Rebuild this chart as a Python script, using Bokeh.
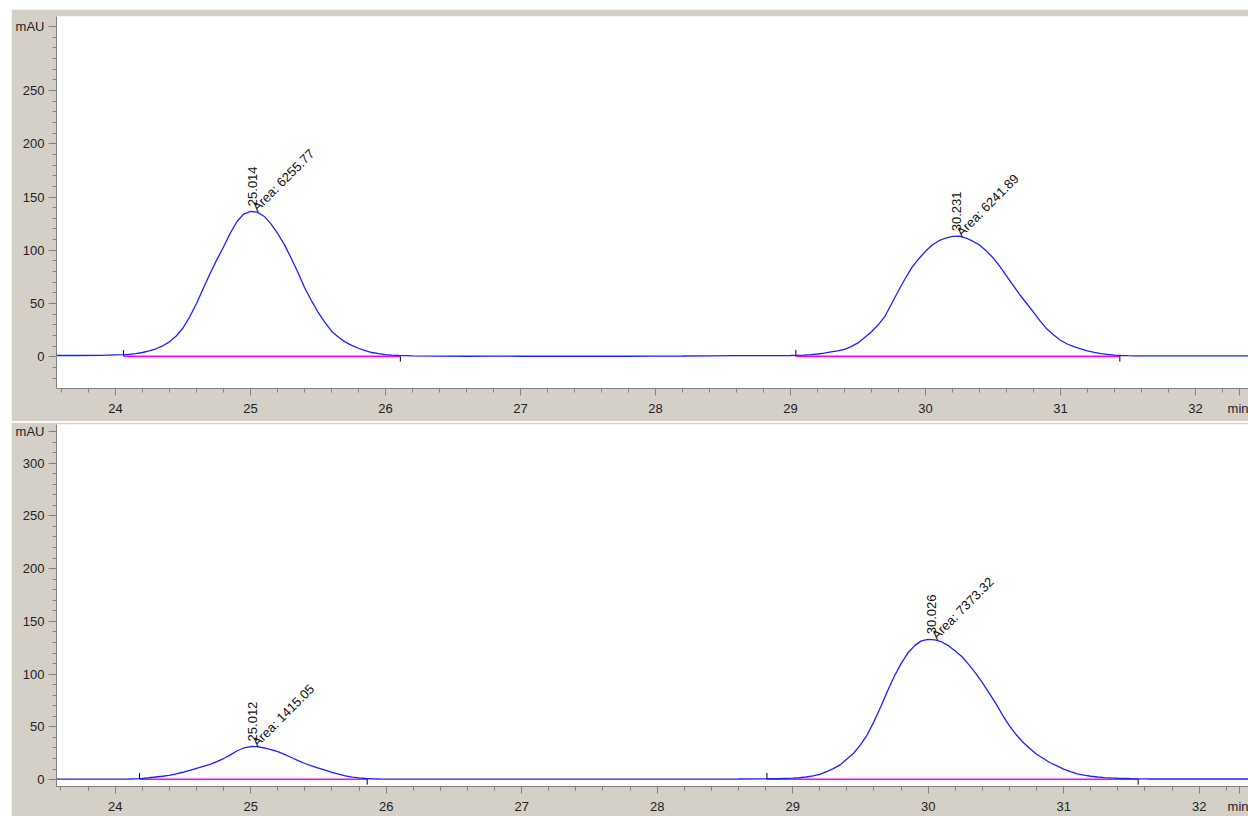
import math
from bokeh.plotting import figure
from bokeh.models import FixedTicker, AllLabels
from bokeh.layouts import column
from bokeh.embed import file_html
from bokeh.resources import INLINE
from bokeh.core.properties import value

# ---------------- data ----------------
PEAK_STEP = 0.05   # peaks are read every 0.05 min

# upper chromatogram
top_lead_t = [23.5, 23.7, 23.9]
top_lead_v = [1.2, 1.2, 1.3]
top_peak1_start = 24.0
top_peak1_v = [1.8, 2.0, 2.3, 3.0, 4.0, 5.5, 7.5, 10.3, 14, 19.5,
               27, 37.5, 50, 64, 78, 91, 103, 116, 127, 134,
               136.5, 135.8, 132, 125, 116, 105.5, 93, 79.5, 65, 53,
               42, 32.5, 24, 18.5, 14, 10.7, 8, 5.8, 4, 2.9,
               2.0, 1.5, 1.2, 1.0, 0.8]
top_mid_t = [26.4, 26.6, 26.8, 27.0, 27.2, 27.4, 27.6, 27.8, 28.0, 28.2, 28.4, 28.6, 28.8]
top_mid_v = [0.6, 0.5, 0.6, 0.5, 0.5, 0.5, 0.5, 0.5, 0.6, 0.7, 0.9, 1.0, 1.1]
top_peak2_start = 29.0
top_peak2_v = [1.2, 1.3, 1.5, 2.0, 2.6, 3.4, 4.5, 5.6, 7.0, 9.5,
               13, 18, 23.5, 30, 38, 50, 62, 73.5, 84, 92,
               99, 105, 109, 111.5, 113, 113.2, 111.5, 108.5, 105, 99.5,
               93, 85, 76, 67, 58, 50, 42, 33.5, 26, 20.5,
               15.5, 12, 9.5, 7.5, 5.5, 4.2, 3, 2.2, 1.5, 1.2, 1.0, 0.9, 0.8]
top_tail_t = [31.8, 32.0, 32.2, 32.4]
top_tail_v = [0.8, 0.8, 0.8, 0.8]

# lower chromatogram
bottom_lead_t = [23.5, 23.7, 23.9, 24.0]
bottom_lead_v = [0.5, 0.5, 0.5, 0.5]
bottom_peak1_start = 24.1
bottom_peak1_v = [0.6, 0.8, 1.2, 1.8, 2.5, 3.2, 4, 5.5, 7, 8.8,
                  10.7, 12.6, 14.5, 17, 20, 23.5, 27.4, 30, 31.4, 31.2,
                  30, 28.4, 26.5, 24, 21, 18, 15.3, 13, 11, 9,
                  7, 5.2, 3.6, 2.4, 1.6, 1.1, 0.8, 0.6, 0.5]
bottom_mid_t = [26.2, 26.4, 26.6, 26.8, 27.0, 27.2, 27.4, 27.6, 27.8, 28.0, 28.2, 28.4, 28.6]
bottom_mid_v = [0.5, 0.5, 0.5, 0.5, 0.5, 0.5, 0.5, 0.5, 0.5, 0.5, 0.5, 0.5, 0.6]
bottom_peak2_start = 28.8
bottom_peak2_v = [0.8, 0.9, 1.0, 1.2, 1.4, 1.8, 2.5, 3.5, 5, 7.5,
                  10.5, 14, 19.5, 25, 33, 42.5, 55, 69, 84, 98,
                  110, 120, 127, 131.5, 133, 132.5, 130.5, 127, 122, 116.5,
                  109, 101, 92, 82, 72, 61, 51, 42.5, 35.5, 29.5,
                  24, 20, 16, 13, 10, 7.5, 5.4, 4.2, 3.2, 2.5,
                  2, 1.6, 1.3, 1.1, 0.9, 0.8, 0.7, 0.6, 0.6]
bottom_tail_t = [31.9, 32.1, 32.3, 32.4]
bottom_tail_v = [0.6, 0.6, 0.6, 0.6]

top_peak_times = [25.014, 30.231]
top_peak_heights = [136.7, 113.2]
top_rt_labels = ["25.014", "30.231"]
top_area_labels = ["Area: 6255.77", "Area: 6241.89"]
top_base_start = [24.06, 29.04]
top_base_end = [26.11, 31.44]
top_base_level = [0.4, 0.4]

bottom_peak_times = [25.012, 30.026]
bottom_peak_heights = [31.5, 133.0]
bottom_rt_labels = ["25.012", "30.026"]
bottom_area_labels = ["Area: 1415.05", "Area: 7373.32"]
bottom_base_start = [24.18, 28.81]
bottom_base_end = [25.86, 31.55]
bottom_base_level = [0.3, 0.3]

x_major = [24, 25, 26, 27, 28, 29, 30, 31, 32]
x_minor = [round(23.6 + 0.2 * i, 1) for i in range(45)]
top_unit_x = 32.33
bottom_unit_x = 32.3
x_unit_label = "min"

top_y_major = [0, 50, 100, 150, 200, 250, 310]
top_y_minor = list(range(-30, 320, 10))
top_unit_tick = 310
bottom_y_major = [0, 50, 100, 150, 200, 250, 300, 330]
bottom_y_minor = list(range(-10, 340, 10))
bottom_unit_tick = 330

GRAY = "#d4d0c8"
AXIS = "#808080"
FONT = "Liberation Sans"


def grid_times(start, n):
    return [round(start + PEAK_STEP * i, 2) for i in range(n)]


def assemble(lead_t, lead_v, p1s, p1v, mid_t, mid_v, p2s, p2v, tail_t, tail_v):
    t = list(lead_t) + grid_times(p1s, len(p1v)) + list(mid_t) + grid_times(p2s, len(p2v)) + list(tail_t)
    v = list(lead_v) + list(p1v) + list(mid_v) + list(p2v) + list(tail_v)
    return t, v


def make_panel(times, signal, peak_t, peak_h, rt_labels, area_labels, b0, b1, blev,
               y_major, y_minor, unit_tick, unit_x, x_range, y_range, height,
               border_top, border_bottom, standoff):
    p = figure(width=1237, height=height, x_range=x_range, y_range=y_range,
               output_backend="svg", toolbar_location=None,
               min_border_left=45, min_border_right=0,
               min_border_top=border_top, min_border_bottom=border_bottom)
    p.border_fill_color = GRAY
    p.background_fill_color = "white"
    p.outline_line_color = None
    p.grid.visible = False

    # integration baselines
    p.segment(x0=b0, y0=blev, x1=b1, y1=blev, line_color="#ff00ff", line_width=1.5)
    # start / end markers
    p.segment(x0=b0, y0=blev, x1=b0, y1=[v + 6 for v in blev], line_color="black", line_width=1)
    p.segment(x0=b1, y0=blev, x1=b1, y1=[v - 5 for v in blev], line_color="black", line_width=1)

    p.line(times, signal, line_color="#1f1fff", line_width=1.3)

    p.text(x=peak_t, y=peak_h, text=rt_labels, angle=math.pi / 2,
           text_font=value(FONT), text_font_size=value("13px"), text_color="#111111",
           text_align="left", text_baseline="middle", y_offset=-5)
    p.text(x=peak_t, y=peak_h, text=area_labels, angle=math.pi / 4,
           text_font=value(FONT), text_font_size=value("13px"), text_color="#111111",
           text_align="left", text_baseline="alphabetic", x_offset=2, y_offset=-2)

    xa = p.xaxis[0]
    xa.ticker = FixedTicker(ticks=x_major + [unit_x], minor_ticks=x_minor)
    xa.major_label_overrides = {unit_x: x_unit_label}
    xa.major_label_policy = AllLabels()
    xa.axis_line_color = AXIS
    xa.major_tick_line_color = AXIS
    xa.minor_tick_line_color = AXIS
    xa.major_tick_in = 0
    xa.minor_tick_in = 0
    xa.major_tick_out = 7
    xa.minor_tick_out = 4
    xa.major_label_standoff = standoff
    xa.major_label_text_font = FONT
    xa.major_label_text_font_size = "13px"
    xa.major_label_text_color = "#222222"

    ya = p.yaxis[0]
    ya.ticker = FixedTicker(ticks=y_major, minor_ticks=y_minor)
    ya.major_label_overrides = {unit_tick: "mAU"}
    ya.major_label_policy = AllLabels()
    ya.axis_line_color = AXIS
    ya.major_tick_line_color = AXIS
    ya.minor_tick_line_color = AXIS
    ya.major_tick_in = 0
    ya.minor_tick_in = 0
    ya.major_tick_out = 8
    ya.minor_tick_out = 4
    ya.major_label_standoff = 4
    ya.major_label_text_font = FONT
    ya.major_label_text_font_size = "13px"
    ya.major_label_text_color = "#222222"
    return p


top_t, top_v = assemble(top_lead_t, top_lead_v, top_peak1_start, top_peak1_v,
                        top_mid_t, top_mid_v, top_peak2_start, top_peak2_v,
                        top_tail_t, top_tail_v)
bot_t, bot_v = assemble(bottom_lead_t, bottom_lead_v, bottom_peak1_start, bottom_peak1_v,
                        bottom_mid_t, bottom_mid_v, bottom_peak2_start, bottom_peak2_v,
                        bottom_tail_t, bottom_tail_v)

# top: canvas 9..421, frame 16..388
p1 = make_panel(top_t, top_v, top_peak_times, top_peak_heights, top_rt_labels, top_area_labels,
                top_base_start, top_base_end, top_base_level,
                top_y_major, top_y_minor, top_unit_tick, top_unit_x,
                (23.563, 32.393), (-29.8, 319.5), 412, 7, 33, 5)
# bottom: canvas 422..816, frame 424..787
p2 = make_panel(bot_t, bot_v, bottom_peak_times, bottom_peak_heights, bottom_rt_labels,
                bottom_area_labels, bottom_base_start, bottom_base_end, bottom_base_level,
                bottom_y_major, bottom_y_minor, bottom_unit_tick, bottom_unit_x,
                (23.567, 32.364), (-6.5, 336.6), 394, 2, 29, 5)
p2.margin = (1, 0, 0, 0)

layout = column(p1, p2, margin=(9, 0, 0, 11), spacing=0)

open("out.html", "w").write(file_html(layout, INLINE))
